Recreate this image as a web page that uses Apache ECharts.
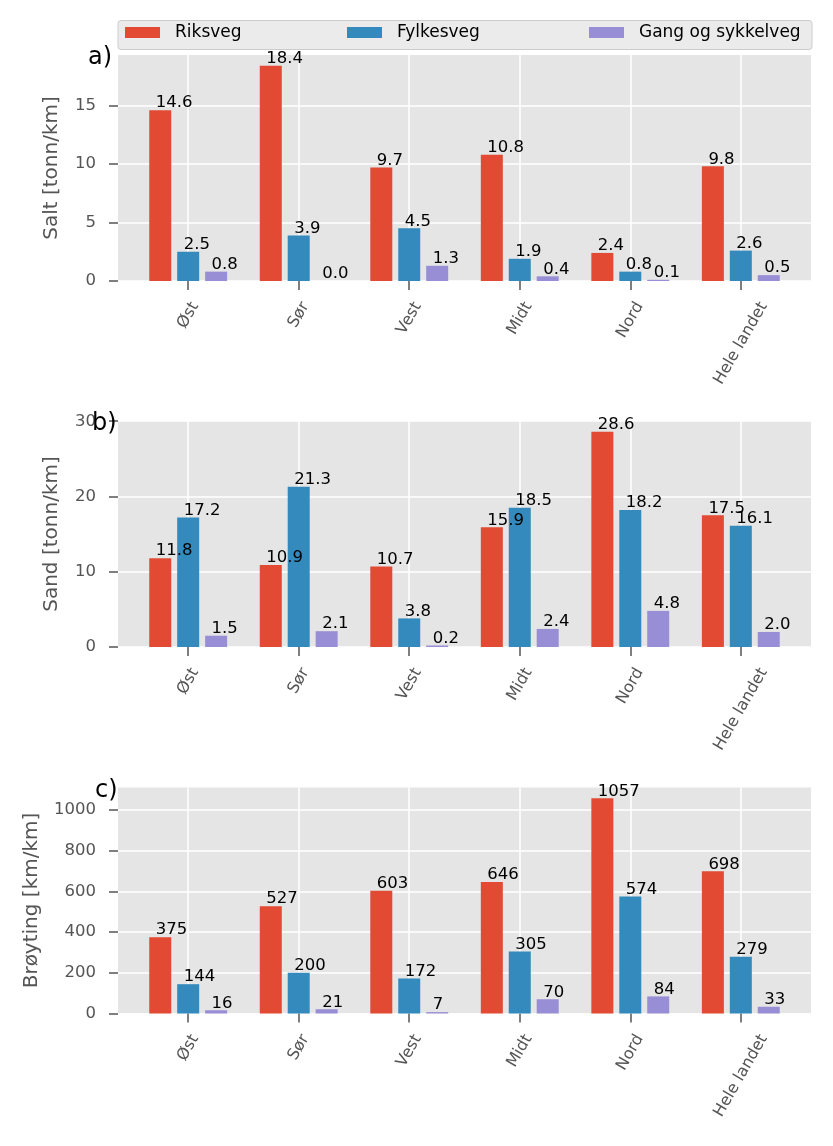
<!DOCTYPE html>
<html><head><meta charset="utf-8">
<script src="https://cdn.jsdelivr.net/npm/echarts@6/dist/echarts.min.js"></script>
<style>html,body{margin:0;padding:0;background:#fff}#c{width:833px;height:1146px}</style>
</head><body><div id="c"></div>
<script>
// ---- data ----
const regions = ['Øst', 'Sør', 'Vest', 'Midt', 'Nord', 'Hele landet'];
const seriesNames = ['Riksveg', 'Fylkesveg', 'Gang og sykkelveg'];

const saltRiksveg   = [14.6, 18.4, 9.7, 10.8, 2.4, 9.8];
const saltFylkesveg = [2.5, 3.9, 4.5, 1.9, 0.8, 2.6];
const saltGang      = [0.8, 0.0, 1.3, 0.4, 0.1, 0.5];

const sandRiksveg   = [11.8, 10.9, 10.7, 15.9, 28.6, 17.5];
const sandFylkesveg = [17.2, 21.3, 3.8, 18.5, 18.2, 16.1];
const sandGang      = [1.5, 2.1, 0.2, 2.4, 4.8, 2.0];

const broytRiksveg   = [375, 527, 603, 646, 1057, 698];
const broytFylkesveg = [144, 200, 172, 305, 574, 279];
const broytGang      = [16, 21, 7, 70, 84, 33];

const yTicksSalt  = [0, 5, 10, 15];
const yTicksSand  = [0, 10, 20, 30];
const yTicksBroyt = [0, 200, 400, 600, 800, 1000];

const panelLabels = ['a)', 'b)', 'c)'];
const yNames = ['Salt [tonn/km]', 'Sand [tonn/km]', 'Brøyting [km/km]'];

// ---- styling / layout ----
const FONT = 'DejaVu Sans';
const COLORS = ['#E24A33', '#348ABD', '#988ED5'];
const panels = [
  { data: [saltRiksveg, saltFylkesveg, saltGang], ticks: yTicksSalt, dec: 1, top: 55, nameGap: 56, labLeft: 88 },
  { data: [sandRiksveg, sandFylkesveg, sandGang], ticks: yTicksSand, dec: 1, top: 421, nameGap: 56, labLeft: 92 },
  { data: [broytRiksveg, broytFylkesveg, broytGang], ticks: yTicksBroyt, dec: 0, top: 787.5, nameGap: 76, labLeft: 95 }
];
const GRID_LEFT = 118, GRID_W = 693, GRID_H = 226;

// rotated x labels: centre the rotated box under each tick (matplotlib style)
const TICK_FS = 16;
const ctx = document.createElement('canvas').getContext('2d');
ctx.font = TICK_FS + 'px "' + FONT + '"';
const S60 = Math.sin(Math.PI / 3);
const rich = {};
regions.forEach((r, i) => {
  const L = ctx.measureText(r).width;
  const H = S60 * L + 0.5 * 18;
  const dy = H / 2;
  rich['r' + i] = { fontSize: TICK_FS, fontFamily: FONT, color: '#555555', padding: [dy, 2 * S60 * dy, 0, 0] };
});

const option = {
  animation: false,
  backgroundColor: '#ffffff',
  textStyle: { fontFamily: FONT },
  title: panels.map((p, k) => ({
    text: panelLabels[k], left: p.labLeft, top: p.top - 9, padding: 0,
    textStyle: { fontSize: 24, fontWeight: 'normal', color: '#000', fontFamily: FONT }
  })),
  graphic: [{
    type: 'rect', left: 117.5, top: 20, z: 0,
    shape: { width: 694, height: 29, r: 3 },
    style: { fill: '#ebebeb', stroke: '#cccccc', lineWidth: 1 }
  }],
  legend: [125, 347, 589].map((x, i) => ({
    data: [seriesNames[i]], left: x, top: 24, padding: 0, z: 5,
    icon: 'rect', itemWidth: 35, itemHeight: 11,
    textStyle: { fontSize: 17, color: '#000', fontFamily: FONT, padding: [0, 0, 0, 10] }
  })),
  grid: panels.map(p => ({
    left: GRID_LEFT, top: p.top, width: GRID_W, height: GRID_H,
    show: true, backgroundColor: '#E5E5E5', borderWidth: 0, containLabel: false
  })),
  xAxis: panels.map((p, k) => ({
    type: 'value', gridIndex: k, min: -0.635, max: 5.635,
    axisLine: { show: false, onZero: false },
    axisTick: { show: true, length: 9, lineStyle: { color: '#555555', width: 1.5 }, customValues: regions.map((r, i) => i) },
    axisLabel: {
      show: true, customValues: regions.map((r, i) => i), rotate: 60, margin: 18,
      align: 'center', verticalAlign: 'middle', rich: rich,
      formatter: v => { const i = Math.round(v); return '{r' + i + '|' + regions[i] + '}'; }
    },
    splitLine: { show: true, lineStyle: { color: '#ffffff', width: 1.5 } }
  })),
  yAxis: panels.map((p, k) => {
    const vmax = Math.max(...p.data.flat()) * 1.05;
    return {
      type: 'value', gridIndex: k, min: 0, max: vmax,
      name: yNames[k], nameLocation: 'middle', nameGap: p.nameGap, nameRotate: 90,
      nameTextStyle: { fontSize: 20, color: '#555555', fontFamily: FONT },
      axisLine: { show: false, onZero: false },
      axisTick: { show: true, length: 9, lineStyle: { color: '#555555', width: 1.5 }, customValues: p.ticks },
      axisLabel: { customValues: p.ticks, fontSize: 16.5, color: '#555555', margin: 22, fontFamily: FONT, formatter: v => String(v) },
      splitLine: { show: true, lineStyle: { color: '#ffffff', width: 1.5 } }
    };
  }),
  series: []
};

panels.forEach((p, k) => {
  p.data.forEach((vals, s) => {
    option.series.push({
      type: 'bar', name: seriesNames[s], xAxisIndex: k, yAxisIndex: k,
      data: vals.map((v, i) => [i, v]),
      barWidth: 22, barGap: '27%',
      itemStyle: { color: COLORS[s] },
      label: {
        show: true, position: [6.5, 1.5], align: 'left', verticalAlign: 'bottom',
        color: '#000', fontSize: 16.5, fontFamily: FONT,
        formatter: q => q.value[1].toFixed(p.dec)
      },
      z: 2
    });
  });
});

const chart = echarts.init(document.getElementById('c'), null, { renderer: 'canvas' });
chart.setOption(option);
</script>
</body></html>
